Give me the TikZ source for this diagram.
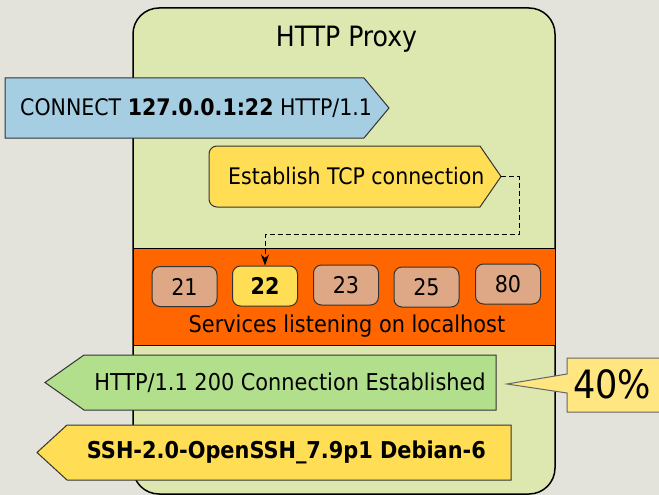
\documentclass[tikz,border=0pt]{standalone}
\usepackage{fontspec}
\setmainfont{DejaVu Sans Condensed}
\usetikzlibrary{arrows.meta}
\definecolor{bgc}{HTML}{E3E3DC}
\definecolor{proxyc}{HTML}{DDE8B0}
\definecolor{bluec}{HTML}{A6CEE2}
\definecolor{yelc}{HTML}{FFDD55}
\definecolor{orac}{HTML}{FF6600}
\definecolor{tanc}{HTML}{DEA886}
\definecolor{grnc}{HTML}{B2DF8C}
\definecolor{callc}{HTML}{FFE680}
\definecolor{edgec}{HTML}{333333}
\begin{document}
\begin{tikzpicture}[x=1pt,y=-1pt,
  txt/.style={inner sep=0pt, font=\fontsize{23.2}{27}\selectfont, text=black},
  shp/.style={draw=edgec, line width=1pt},
  port/.style={shp, fill=tanc, rounded corners=8pt, minimum width=65pt, minimum height=40pt, inner sep=0pt, font=\fontsize{23}{27}\selectfont}]
\clip (0,0) rectangle (659,495);
\fill[bgc] (0,0) rectangle (659,495);
% proxy box
\draw[line width=1.5pt, draw=black, fill=proxyc, rounded corners=26pt] (133,8) rectangle (555,494);
\node[txt, font=\fontsize{28}{32}\selectfont, anchor=base] (title) at (346.5,47) {HTTP Proxy};
% services band
\draw[line width=1pt, draw=black, fill=orac] (133,248) rectangle (555,345);
\node[port] (p21) at (184.5,286.5) {21};
\node[port, fill=yelc, font=\fontsize{23}{27}\selectfont\bfseries] (p22) at (265,286) {22};
\node[port] (p23) at (346,285) {23};
\node[port] (p25) at (426.5,287) {25};
\node[port] (p80) at (508,284) {80};
\node[txt, anchor=base] (svc) at (347,332) {Services listening on localhost};
% CONNECT request
\draw[shp, fill=bluec] (5,78) -- (364,78) -- (389,108) -- (364,138) -- (5,138) -- cycle;
\node[txt, anchor=base west, font=\fontsize{22.8}{27}\selectfont] (req) at (20,115) {CONNECT \textbf{127.0.0.1:22} HTTP/1.1};
% establish
\draw[shp, fill=yelc] (300,146) -- (480,146) -- (501,176.5) -- (480,207) [rounded corners=8pt] -- (209,207) -- (209,146) [sharp corners] -- (300,146) -- cycle;
\coordinate (esttip) at (501,176.5);
\node[txt, anchor=base west, font=\fontsize{22.8}{27}\selectfont] (est) at (228,184) {Establish TCP connection};
\draw[line width=1pt, dash pattern=on 5pt off 3pt, -{Stealth[length=11pt,width=8pt]}]
  (esttip) -- (519,176.5) -- (519,234) -- (p22.north |- 0,234) -- (p22.north);
% response
\draw[shp, fill=grnc] (45,382.5) -- (84,355) -- (496,355) -- (496,410) -- (84,410) -- cycle;
\node[txt, anchor=base east] (resp) at (486,390) {HTTP/1.1 200 Connection Established};
% ssh banner
\draw[shp, fill=yelc] (37,452.5) -- (67,425) -- (511,425) -- (511,480) -- (67,480) -- cycle;
\node[txt, anchor=base east, font=\fontsize{23.2}{27}\selectfont\bfseries] (ssh) at (486,458) {SSH-2.0-OpenSSH\_7.9p1 Debian-6};
% callout
\draw[line width=1pt, draw=black!60, fill=callc] (567,358) -- (680,358) -- (680,412) -- (567,412) -- (567,393) -- (507,384) -- (567,374) -- cycle;
\node[txt, anchor=base west, font=\fontsize{39}{44}\selectfont] (pct) at (573,398) {40\%};
\end{tikzpicture}
\end{document}
